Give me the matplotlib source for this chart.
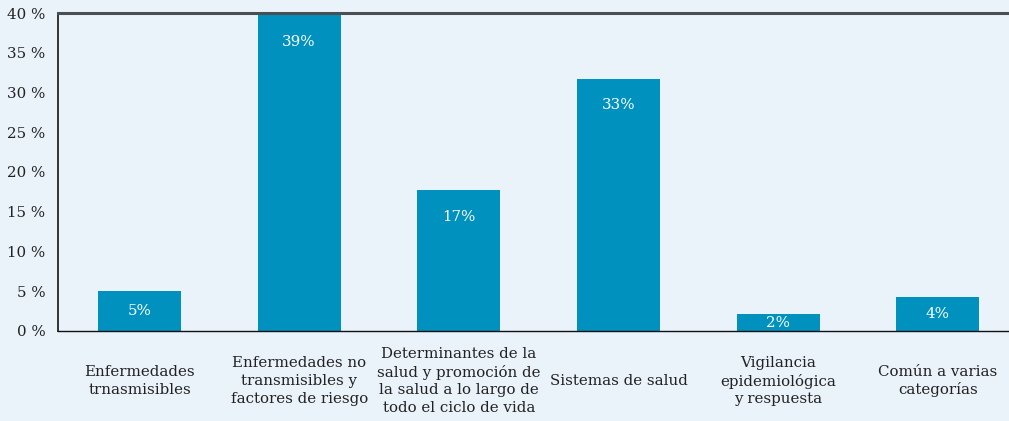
import matplotlib.pyplot as plt
from matplotlib.ticker import FuncFormatter

# Data
categories = [
    'Enfermedades\ntrnasmisibles',
    'Enfermedades no\ntransmisibles y\nfactores de riesgo',
    'Determinantes de la\nsalud y promoción de\nla salud a lo largo de\ntodo el ciclo de vida',
    'Sistemas de salud',
    'Vigilancia\nepidemiológica\ny respuesta',
    'Común a varias\ncategorías',
]
values = [5.0, 39.7, 17.7, 31.7, 2.1, 4.3]
value_labels = ['5%', '39%', '17%', '33%', '2%', '4%']
y_ticks = [0, 5, 10, 15, 20, 25, 30, 35, 40]

bg = '#EAF2FA'
bar_color = '#0091BE'
text_color = '#222222'
serif = ['DejaVu Serif']

fig = plt.figure(figsize=(10.09, 4.21), dpi=100, facecolor=bg)
ax = fig.add_axes([0.0575, 0.2138, 0.9425, 0.7553], facecolor=bg)

x = list(range(len(categories)))
bars = ax.bar(x, values, width=0.52, color=bar_color, zorder=2)

ax.set_xlim(-0.51, 5.445)
ax.set_ylim(0, 40)
ax.set_yticks(y_ticks)
ax.yaxis.set_major_formatter(FuncFormatter(lambda v, p: f'{int(v)} %'))
ax.set_xticks(x)
ax.set_xticklabels(categories, va='center', ha='center', linespacing=1.32,
                   fontsize=10.8, family=serif, color=text_color)
ax.tick_params(axis='x', length=0, pad=36)
ax.tick_params(axis='y', length=0, pad=9, labelsize=10.8, labelcolor=text_color)
for lbl in ax.get_yticklabels():
    lbl.set_family(serif)

# Spines
ax.spines['right'].set_visible(False)
ax.spines['top'].set_color('#4A4F54')
ax.spines['top'].set_linewidth(2.2)
ax.spines['left'].set_color('#333333')
ax.spines['left'].set_linewidth(1.4)
ax.spines['bottom'].set_color('#111111')
ax.spines['bottom'].set_linewidth(1.0)

# Value labels
for b, lab in zip(bars, value_labels):
    h = b.get_height()
    cx = b.get_x() + b.get_width() / 2
    if h > 7:
        ax.annotate(lab, (cx, h), xytext=(0, -19), textcoords='offset points',
                    ha='center', va='center', color='white', fontsize=10.8,
                    family=serif)
    else:
        ax.text(cx, h / 2, lab, ha='center', va='center', color='white',
                fontsize=10.8, family=serif)

plt.savefig('out.png', dpi=100, facecolor=bg)
